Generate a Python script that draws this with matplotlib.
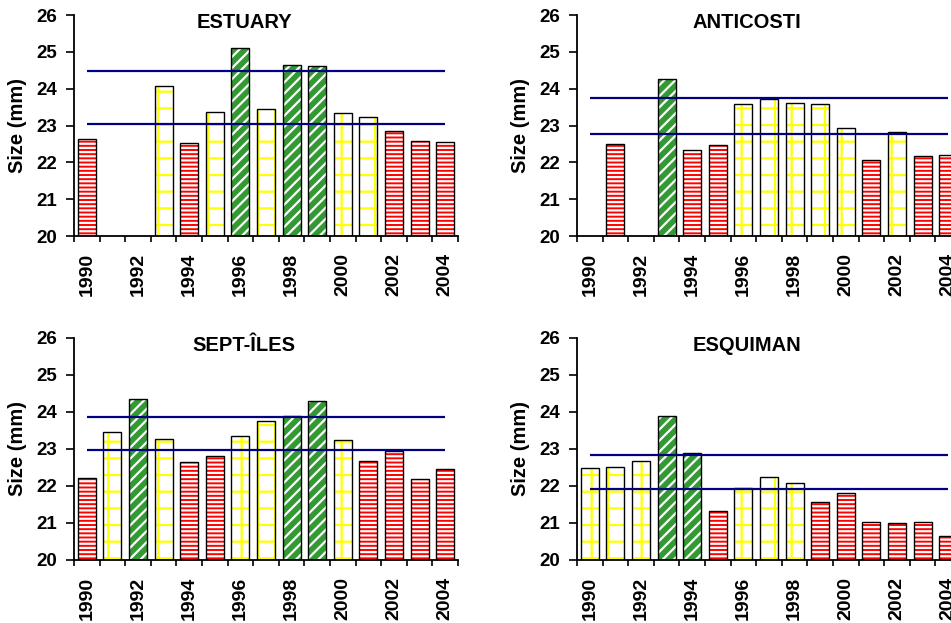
import matplotlib
matplotlib.use('Agg')
import matplotlib.pyplot as plt
import numpy as np

nan = np.nan
years = list(range(1990, 2005))
year_labels = [str(y) if y % 2 == 0 else '' for y in years]

estuary = [22.64, nan, nan, 24.08, 22.53, 23.37, 25.11, 23.44, 24.64, 24.62, 23.34, 23.24, 22.84, 22.59, 22.55]
estuary_cls = ['R', '', '', 'Y', 'R', 'Y', 'G', 'Y', 'G', 'G', 'Y', 'Y', 'R', 'R', 'R']
estuary_lines = [24.48, 23.05]

anticosti = [nan, 22.50, nan, 24.25, 22.33, 22.46, 23.59, 23.72, 23.60, 23.59, 22.94, 22.06, 22.83, 22.17, 22.19]
anticosti_cls = ['', 'R', '', 'G', 'R', 'R', 'Y', 'Y', 'Y', 'Y', 'Y', 'R', 'Y', 'R', 'R']
anticosti_lines = [23.75, 22.76]

septiles = [22.22, 23.46, 24.36, 23.28, 22.66, 22.80, 23.34, 23.77, 23.89, 24.29, 23.23, 22.68, 22.94, 22.20, 22.45]
septiles_cls = ['R', 'Y', 'G', 'Y', 'R', 'R', 'Y', 'Y', 'G', 'G', 'Y', 'R', 'R', 'R', 'R']
septiles_lines = [23.86, 22.97]

esquiman = [22.49, 22.52, 22.68, 23.89, 22.90, 21.33, 21.95, 22.25, 22.07, 21.58, 21.82, 21.04, 21.01, 21.04, 20.64]
esquiman_cls = ['Y', 'Y', 'Y', 'G', 'G', 'R', 'Y', 'Y', 'Y', 'R', 'R', 'R', 'R', 'R', 'R']
esquiman_lines = [22.83, 21.92]

# fill colour, hatch colour, hatch pattern
styles = {
    'R': ('#ff0000', 'white', '----'),
    'Y': ('white', '#ffff00', '+'),
    'G': ('#339933', 'white', '///'),
}

plt.rcParams['font.family'] = ['Liberation Sans', 'DejaVu Sans']
plt.rcParams['font.weight'] = 'bold'
plt.rcParams['hatch.linewidth'] = 1.6

W, H = 951, 623
fig = plt.figure(figsize=(W / 100, H / 100), dpi=100)

def px_axes(left, top, bottom, width=384):
    return fig.add_axes([left / W, (H - bottom) / H, width / W, (bottom - top) / H])

panels = [
    ('ESTUARY', estuary, estuary_cls, estuary_lines, px_axes(74, 15, 236)),
    ('ANTICOSTI', anticosti, anticosti_cls, anticosti_lines, px_axes(577, 15, 236)),
    ('SEPT-ÎLES', septiles, septiles_cls, septiles_lines, px_axes(74, 338, 560)),
    ('ESQUIMAN', esquiman, esquiman_cls, esquiman_lines, px_axes(577, 338, 560)),
]

x = np.arange(len(years))
for title, vals, cls, lines, ax in panels:
    for key, (fc, hc, hatch) in styles.items():
        idx = [i for i, c in enumerate(cls) if c == key and not np.isnan(vals[i])]
        if not idx:
            continue
        h = [vals[i] - 20 for i in idx]
        ax.bar(x[idx], h, 0.7, bottom=20, color=fc, edgecolor=hc, hatch=hatch,
               linewidth=0, zorder=2)
        ax.bar(x[idx], h, 0.7, bottom=20, fill=False, edgecolor='black',
               linewidth=1.0, zorder=3)
    ax.hlines(lines, 0, len(years) - 1, colors='#000080', linewidth=1.6, zorder=4)

    ax.set_xlim(-0.5, len(years) - 0.5)
    ax.set_ylim(20, 26)
    ax.set_yticks(range(20, 27))
    ax.tick_params(axis='y', length=6, width=1.2, pad=6, labelsize=13.5)
    ax.set_xticks(np.arange(-0.5, len(years)), labels=[])
    ax.set_xticks(x, labels=year_labels, minor=True, rotation=90)
    ax.tick_params(axis='x', which='major', length=4, width=1.2)
    ax.tick_params(axis='x', which='minor', length=0, pad=12, labelsize=14)
    for s in ['top', 'right']:
        ax.spines[s].set_visible(False)
    for s in ['left', 'bottom']:
        ax.spines[s].set_linewidth(1.3)
    ax.set_ylabel('Size (mm)', fontsize=14.5, fontweight='bold', va='center')
    ax.yaxis.set_label_coords(-0.146, 0.5)
    ax.text(0.443, 0.968, title, transform=ax.transAxes, ha='center', va='center',
            fontsize=14.5, fontweight='bold')

fig.savefig('out.png', dpi=100)
